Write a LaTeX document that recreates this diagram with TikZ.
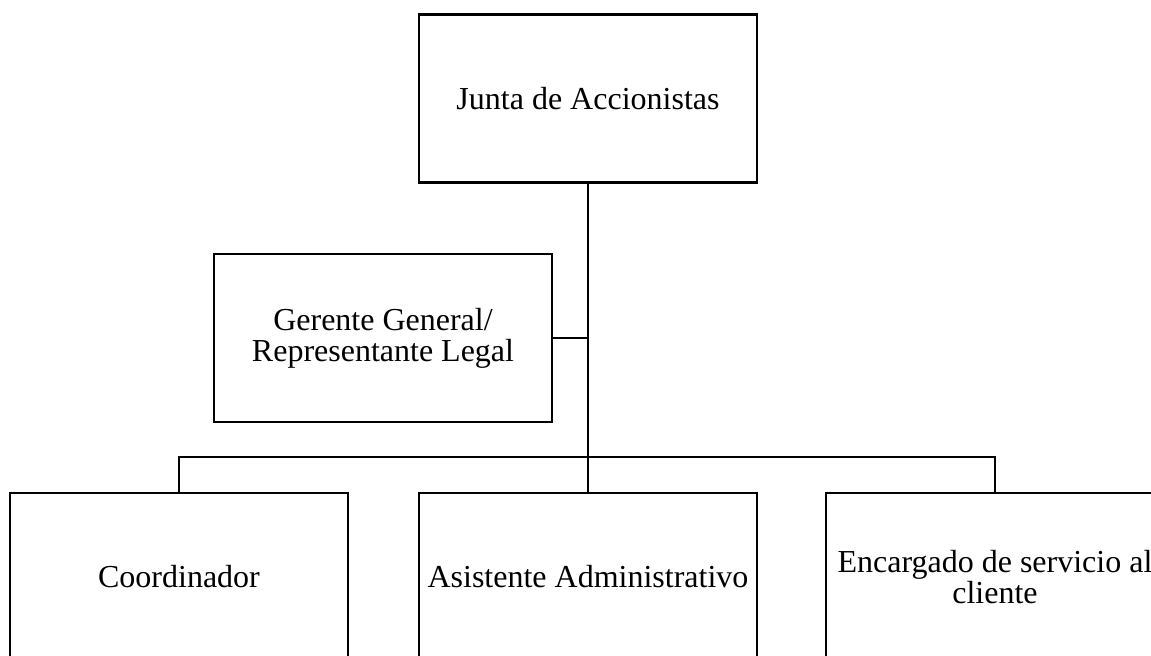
\documentclass[tikz,border=0pt]{standalone}
\usepackage{fontspec}
\setmainfont{Liberation Serif}
\usetikzlibrary{positioning}
\tikzstyle{puesto} = [rectangle, minimum width=169pt, minimum height=84pt, inner sep=0pt, text centered, align=center, draw=black, line width=1.25pt, font=\fontsize{16}{15.5}\selectfont]
\tikzstyle{linea} = [line width=1.25pt]

\begin{document}
\begin{tikzpicture}[x=0.5pt, y=-0.5pt]
        \clip (0,0) rectangle (1151,655);
        \node (junta) [puesto] at (588,98.5) {Junta de Accionistas};
        \node (gerente) [puesto] at (383,338) {Gerente General/\\Representante Legal};
        \node (coordinador) [puesto] at (179,577) {Coordinador};
        \node (asistente) [puesto] at (588,577) {Asistente Administrativo};
        \node (encargado) [puesto] at (995,577) {Encargado de servicio al\\cliente};
        \coordinate (bus) at (588,457);

        \draw [linea] (junta.south) -- (bus) -- (asistente.north);
        \draw [linea] (gerente.east) -- (gerente.east -| bus);
        \draw [linea] (coordinador.north) |- (bus) -| (encargado.north);
\end{tikzpicture}
\end{document}
